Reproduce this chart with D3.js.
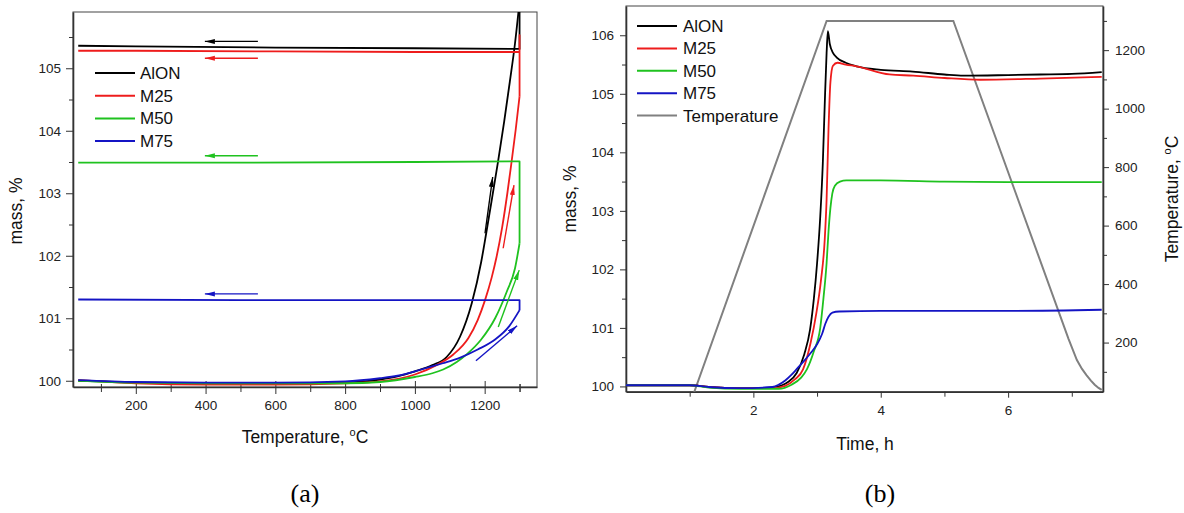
<!DOCTYPE html>
<html>
<head>
<meta charset="utf-8">
<script src="https://cdn.jsdelivr.net/npm/d3@7"></script>
<style>
  body { margin: 0; background: #fff; }
  svg { font-family: "Liberation Sans", Arial, sans-serif; }
  .axis text { font-size: 13.5px; fill: #222; }
  .axis line, .axis path { stroke: #333; }
</style>
</head>
<body>
<script>
// ---- data ----
var seriesNames = ["AlON", "M25", "M50", "M75"];
var seriesColors = ["#000000", "#ee1c1c", "#1fc21f", "#1414c4"];
var tempColor = "#808080";

// (a) mass vs temperature : [T degC, mass %], heating then hold / cooling
var aAlON = [[35,100.00],[100,99.99],[200,99.97],[400,99.96],[600,99.96],[800,99.97],[900,100.02],[950,100.07],[1000,100.15],[1050,100.25],[1091,100.38],[1129,100.70],[1163,101.24],[1190,101.90],[1205,102.38],[1222,102.95],[1239,103.53],[1256,104.15],[1272,104.78],[1287,105.40],[1300,106.07],[1300,105.31],[1000,105.32],[600,105.33],[200,105.35],[35,105.36]];
var aM25 = [[35,100.01],[100,99.99],[200,99.96],[400,99.94],[600,99.94],[800,99.96],[900,99.99],[1000,100.10],[1062,100.25],[1110,100.42],[1153,100.68],[1180,100.97],[1201,101.29],[1220,101.65],[1234,101.98],[1250,102.45],[1265,103.00],[1277,103.50],[1289,104.02],[1300,104.55],[1300,105.53],[1300,105.26],[1000,105.26],[600,105.27],[200,105.28],[35,105.28]];
var aM50 = [[35,100.00],[200,99.97],[400,99.96],[600,99.96],[800,99.96],[900,99.98],[1000,100.06],[1050,100.12],[1081,100.18],[1120,100.30],[1150,100.43],[1190,100.66],[1230,101.00],[1263,101.42],[1287,101.80],[1300,102.20],[1300,103.51],[1000,103.50],[500,103.49],[35,103.49]];
var aM75 = [[35,100.01],[200,99.98],[400,99.97],[600,99.97],[800,99.99],[900,100.04],[950,100.08],[1000,100.15],[1030,100.20],[1080,100.28],[1130,100.37],[1180,100.50],[1230,100.66],[1270,100.87],[1300,101.13],[1300,101.29],[1000,101.29],[500,101.29],[35,101.30]];

// arrows in (a): cooling ones go left, heating ones go up along the curves
var coolArrowT = [550, 398];
var coolArrowMass = [105.43, 105.16, 103.60, 101.39];
var heatArrows = [[[1201,102.36],[1223,103.26]], [[1253,102.12],[1284,103.13]], [[1239,100.86],[1299,101.77]], [[1175,100.32],[1293,100.88]]];

// (b) mass vs time : [t h, mass %]
var bAlON = [[0,100.02],[1.0,100.02],[1.3,99.99],[1.8,99.97],[2.3,99.98],[2.45,100.02],[2.55,100.08],[2.68,100.23],[2.8,100.55],[2.89,100.97],[2.95,101.5],[3.0,102.1],[3.05,102.9],[3.09,103.8],[3.12,104.8],[3.15,105.7],[3.17,106.07],[3.2,105.85],[3.25,105.7],[3.31,105.62],[3.45,105.53],[3.62,105.47],[4.0,105.41],[4.5,105.38],[5.0,105.33],[5.3,105.31],[6.0,105.32],[6.5,105.33],[7.0,105.34],[7.47,105.37]];
var bM25 = [[0,100.02],[1.0,100.02],[1.3,99.99],[1.8,99.97],[2.3,99.97],[2.5,100.01],[2.65,100.12],[2.78,100.29],[2.9,100.75],[2.99,101.26],[3.06,101.8],[3.12,102.5],[3.15,103.2],[3.18,104.4],[3.21,105.2],[3.25,105.48],[3.32,105.53],[3.45,105.5],[3.62,105.47],[4.14,105.33],[4.51,105.31],[5.0,105.27],[5.56,105.24],[6.5,105.26],[7.47,105.29]];
var bM50 = [[0,100.02],[1.0,100.02],[1.3,99.98],[1.8,99.96],[2.4,99.96],[2.6,100.03],[2.75,100.15],[2.84,100.29],[2.95,100.6],[3.05,101.0],[3.1,101.5],[3.15,102.11],[3.18,102.65],[3.21,103.05],[3.24,103.3],[3.28,103.43],[3.36,103.5],[3.46,103.52],[4.0,103.52],[5.0,103.5],[6.0,103.49],[7.47,103.49]];
var bM75 = [[0,100.02],[1.0,100.02],[1.3,99.99],[1.8,99.97],[2.3,99.99],[2.4,100.03],[2.5,100.1],[2.6,100.2],[2.7,100.32],[2.8,100.44],[2.9,100.57],[3.0,100.72],[3.08,100.9],[3.13,101.07],[3.18,101.19],[3.24,101.26],[3.35,101.28],[4.0,101.29],[5.0,101.29],[6.0,101.29],[7.47,101.31]];
var bTemp = [[1.07,30],[3.15,1300],[5.14,1300],[6.95,212],[7.08,140],[7.16,110],[7.23,89],[7.3,70],[7.36,56],[7.42,45],[7.47,38]];

var aTicksX = [200, 400, 600, 800, 1000, 1200];
var aTicksY = [100, 101, 102, 103, 104, 105];
var bTicksX = [2, 4, 6];
var bTicksY = [100, 101, 102, 103, 104, 105, 106];
var bTicksT = [200, 400, 600, 800, 1000, 1200];

var fmt = d3.format("d");

var svg = d3.select("body").append("svg")
    .attr("width", 1184)
    .attr("height", 513);

var defs = svg.append("defs");
seriesColors.forEach(function(c, i) {
  defs.append("marker")
      .attr("id", "head" + i)
      .attr("markerUnits", "userSpaceOnUse")
      .attr("markerWidth", 11).attr("markerHeight", 6)
      .attr("refX", 10).attr("refY", 3)
      .attr("orient", "auto")
    .append("path")
      .attr("d", "M0,0.5 L10,3 L0,5.5 Z")
      .attr("fill", c);
});

function frame(x0, y0, x1, y1, id) {
  defs.append("clipPath").attr("id", id)
    .append("rect").attr("x", x0).attr("y", y0)
    .attr("width", x1 - x0).attr("height", y1 - y0);
  svg.append("rect")
      .attr("x", x0).attr("y", y0)
      .attr("width", x1 - x0).attr("height", y1 - y0)
      .attr("fill", "none").attr("stroke", "#444").attr("stroke-width", 1);
}

function superC(sel) {
  sel.append("tspan").text("o").attr("font-size", "11px").attr("dy", -7);
  sel.append("tspan").text("C").attr("dy", 7);
}

/* ================= (a) ================= */
var xa = d3.scaleLinear().domain([20, 1350]).range([73, 537]);
var ya = d3.scaleLinear().domain([99.9, 105.9]).range([387, 12]);

frame(73, 12, 537, 387, "clipA");

// minor ticks
svg.append("g").attr("class", "axis")
    .attr("transform", "translate(0,387)")
    .call(d3.axisBottom(xa).tickValues(d3.range(100, 1301, 200).concat([1300])).tickFormat("").tickSize(5).tickSizeOuter(0))
    .call(function(g) { g.select(".domain").remove(); g.selectAll("line").attr("y1", -3); });
svg.append("g").attr("class", "axis")
    .attr("transform", "translate(73,0)")
    .call(d3.axisLeft(ya).tickValues(d3.range(100.5, 105.6, 1)).tickFormat("").tickSize(4).tickSizeOuter(0))
    .call(function(g) { g.select(".domain").remove(); });

var axA = svg.append("g").attr("class", "axis")
    .attr("transform", "translate(0,387)")
    .call(d3.axisBottom(xa).tickValues(aTicksX).tickFormat(fmt).tickSize(7).tickSizeOuter(0).tickPadding(6));
axA.selectAll(".tick line").attr("y1", -6);
axA.select(".domain").attr("stroke-width", 1.6);

svg.append("g").attr("class", "axis")
    .attr("transform", "translate(73,0)")
    .call(d3.axisLeft(ya).tickValues(aTicksY).tickFormat(fmt).tickSize(7).tickSizeOuter(0).tickPadding(5))
    .select(".domain").attr("stroke-width", 1.6);

// heating branch is monotone in T -> smooth curve; hold + cooling drawn straight
var heatLine = d3.line()
    .x(function(d) { return xa(d[0]); })
    .y(function(d) { return ya(d[1]); })
    .curve(d3.curveMonotoneX);
var coolLine = d3.line()
    .x(function(d) { return xa(d[0]); })
    .y(function(d) { return ya(d[1]); });

var gA = svg.append("g").attr("clip-path", "url(#clipA)");
[aAlON, aM25, aM50, aM75].forEach(function(s, i) {
  var k = s.findIndex(function(d) { return d[0] >= 1300; });
  gA.append("path")
      .datum(s.slice(0, k + 1))
      .attr("d", heatLine)
      .attr("fill", "none")
      .attr("stroke", seriesColors[i])
      .attr("stroke-width", 1.8);
  gA.append("path")
      .datum(s.slice(k))
      .attr("d", coolLine)
      .attr("fill", "none")
      .attr("stroke", seriesColors[i])
      .attr("stroke-width", 1.8)
      .attr("stroke-linejoin", "round");
});

coolArrowMass.forEach(function(m, i) {
  svg.append("line")
      .attr("x1", xa(coolArrowT[0])).attr("x2", xa(coolArrowT[1]))
      .attr("y1", ya(m)).attr("y2", ya(m))
      .attr("stroke", seriesColors[i]).attr("stroke-width", 1.4)
      .attr("marker-end", "url(#head" + i + ")");
});
heatArrows.forEach(function(a, i) {
  svg.append("line")
      .attr("x1", xa(a[0][0])).attr("y1", ya(a[0][1]))
      .attr("x2", xa(a[1][0])).attr("y2", ya(a[1][1]))
      .attr("stroke", seriesColors[i]).attr("stroke-width", 1.4)
      .attr("marker-end", "url(#head" + i + ")");
});

// legend (a)
seriesNames.forEach(function(n, i) {
  var yy = 73 + i * 22.7;
  svg.append("line").attr("x1", 95).attr("x2", 135).attr("y1", yy).attr("y2", yy)
      .attr("stroke", seriesColors[i]).attr("stroke-width", 2);
  svg.append("text").attr("x", 140).attr("y", yy + 6).attr("font-size", "17px").attr("fill", "#111").text(n);
});

svg.append("text").attr("x", 305).attr("y", 443).attr("text-anchor", "middle")
    .attr("font-size", "17.5px").attr("fill", "#111").text("Temperature, ")
    .call(superC);
svg.append("text").attr("transform", "translate(22,211) rotate(-90)").attr("text-anchor", "middle")
    .attr("font-size", "17.5px").attr("fill", "#111").text("mass, %");

/* ================= (b) ================= */
var xb = d3.scaleLinear().domain([0, 7.49]).range([626, 1103]);
var yb = d3.scaleLinear().domain([99.91, 106.5]).range([391.7, 6]);
var yt = d3.scaleLinear().domain([32, 1351]).range([391.7, 6]);

frame(626, 6, 1103, 391.7, "clipB");

svg.append("g").attr("class", "axis")
    .attr("transform", "translate(0,391.7)")
    .call(d3.axisBottom(xb).tickValues([1, 3, 5, 7]).tickFormat("").tickSize(5).tickSizeOuter(0))
    .select(".domain").remove();
svg.append("g").attr("class", "axis")
    .attr("transform", "translate(626,0)")
    .call(d3.axisLeft(yb).tickValues(d3.range(100.5, 106.1, 1)).tickFormat("").tickSize(4).tickSizeOuter(0))
    .select(".domain").remove();
svg.append("g").attr("class", "axis")
    .attr("transform", "translate(1103,0)")
    .call(d3.axisRight(yt).tickValues(d3.range(100, 1301, 200)).tickFormat("").tickSize(4).tickSizeOuter(0))
    .select(".domain").remove();

svg.append("g").attr("class", "axis")
    .attr("transform", "translate(0,391.7)")
    .call(d3.axisBottom(xb).tickValues(bTicksX).tickFormat(fmt).tickSize(6).tickSizeOuter(0).tickPadding(8))
    .select(".domain").attr("stroke-width", 1.6);
svg.append("g").attr("class", "axis")
    .attr("transform", "translate(626,0)")
    .call(d3.axisLeft(yb).tickValues(bTicksY).tickFormat(fmt).tickSize(6).tickSizeOuter(0).tickPadding(6))
    .select(".domain").attr("stroke-width", 1.6);
svg.append("g").attr("class", "axis")
    .attr("transform", "translate(1103,0)")
    .call(d3.axisRight(yt).tickValues(bTicksT).tickFormat(fmt).tickSize(6).tickSizeOuter(0).tickPadding(6))
    .select(".domain").attr("stroke-width", 1.6);

var lineB = d3.line()
    .x(function(d) { return xb(d[0]); })
    .y(function(d) { return yb(d[1]); })
    .curve(d3.curveMonotoneX);
var lineT = d3.line()
    .x(function(d) { return xb(d[0]); })
    .y(function(d) { return yt(d[1]); });

var gB = svg.append("g").attr("clip-path", "url(#clipB)");
gB.append("path").datum(bTemp).attr("d", lineT)
    .attr("fill", "none").attr("stroke", tempColor).attr("stroke-width", 2);
[bAlON, bM25, bM50, bM75].forEach(function(s, i) {
  gB.append("path")
      .datum(s)
      .attr("d", lineB)
      .attr("fill", "none")
      .attr("stroke", seriesColors[i])
      .attr("stroke-width", 1.8);
});

// legend (b)
seriesNames.concat(["Temperature"]).forEach(function(n, i) {
  var yy = 26 + i * 22.4;
  svg.append("line").attr("x1", 637).attr("x2", 677).attr("y1", yy).attr("y2", yy)
      .attr("stroke", i < 4 ? seriesColors[i] : tempColor).attr("stroke-width", 2);
  svg.append("text").attr("x", 683).attr("y", yy + 6).attr("font-size", "17px").attr("fill", "#111").text(n);
});

svg.append("text").attr("x", 865).attr("y", 450).attr("text-anchor", "middle")
    .attr("font-size", "17.5px").attr("fill", "#111").text("Time, h");
svg.append("text").attr("transform", "translate(576,199) rotate(-90)").attr("text-anchor", "middle")
    .attr("font-size", "17.5px").attr("fill", "#111").text("mass, %");
svg.append("text").attr("transform", "translate(1178,199) rotate(-90)").attr("text-anchor", "middle")
    .attr("font-size", "17.5px").attr("fill", "#111").text("Temperature, ")
    .call(superC);

// captions
svg.append("text").attr("x", 305).attr("y", 502).attr("text-anchor", "middle")
    .attr("font-family", "'Liberation Serif', 'Times New Roman', serif").attr("font-size", "26px").text("(a)");
svg.append("text").attr("x", 880).attr("y", 502).attr("text-anchor", "middle")
    .attr("font-family", "'Liberation Serif', 'Times New Roman', serif").attr("font-size", "26px").text("(b)");
</script>
</body>
</html>
